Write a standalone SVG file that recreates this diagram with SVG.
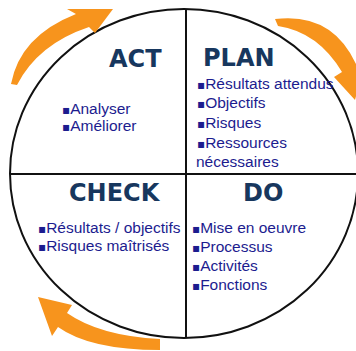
<svg xmlns="http://www.w3.org/2000/svg" width="356" height="351" viewBox="0 0 356 351">
<style>
.frame{fill:none;stroke:#111;stroke-width:2}
.arrow{fill:#F7941D;stroke:none}
.title{font-family:"DejaVu Sans",Verdana,sans-serif;font-weight:bold;font-size:24px;fill:#17375E}
.item{font-family:"Liberation Sans",Arial,sans-serif;font-size:15.5px;fill:#1C1C8F}
.b{font-family:"DejaVu Sans",sans-serif;font-size:12px}
</style>
<rect width="356" height="351" fill="#fff"/>
<g id="connectors">
<ellipse class="frame" cx="184" cy="173.5" rx="174" ry="164.5"/>
<line class="frame" x1="186" y1="9" x2="186" y2="338"/>
<line class="frame" x1="10" y1="174" x2="356" y2="174"/>
<path class="arrow" d="M11 84 Q20 36 76 14 L67 9 L113 9 L95 33 L89 27 Q38 44 17 85 Z"/>
<path class="arrow" d="M275 19 Q332 12 356 64 L366 60 L355 100 L334 77 L342 72 Q318 32 278 26 Z"/>
<path class="arrow" d="M38 297 L72 305 L67 313 Q100 336 160 339 L160 350 Q90 350 58 327 L52 336 Z"/>
</g>
<g id="act">
<text class="title" x="109" y="67">ACT</text>
<text class="item" x="62" y="114"><tspan class="b">▪</tspan>Analyser</text>
<text class="item" x="62" y="131"><tspan class="b">▪</tspan>Améliorer</text>
</g>
<g id="plan">
<text class="title" x="203" y="66">PLAN</text>
<text class="item" x="197" y="89"><tspan class="b">▪</tspan>Résultats attendus</text>
<text class="item" x="197" y="108"><tspan class="b">▪</tspan>Objectifs</text>
<text class="item" x="197" y="128"><tspan class="b">▪</tspan>Risques</text>
<text class="item" x="197" y="148"><tspan class="b">▪</tspan>Ressources</text>
<text class="item" x="196" y="167">nécessaires</text>
</g>
<g id="check">
<text class="title" x="69" y="201">CHECK</text>
<text class="item" x="38" y="233"><tspan class="b">▪</tspan>Résultats / objectifs</text>
<text class="item" x="38" y="251"><tspan class="b">▪</tspan>Risques maîtrisés</text>
</g>
<g id="do">
<text class="title" x="243" y="201">DO</text>
<text class="item" x="192" y="233"><tspan class="b">▪</tspan>Mise en oeuvre</text>
<text class="item" x="192" y="252"><tspan class="b">▪</tspan>Processus</text>
<text class="item" x="192" y="271"><tspan class="b">▪</tspan>Activités</text>
<text class="item" x="192" y="290"><tspan class="b">▪</tspan>Fonctions</text>
</g>
</svg>
